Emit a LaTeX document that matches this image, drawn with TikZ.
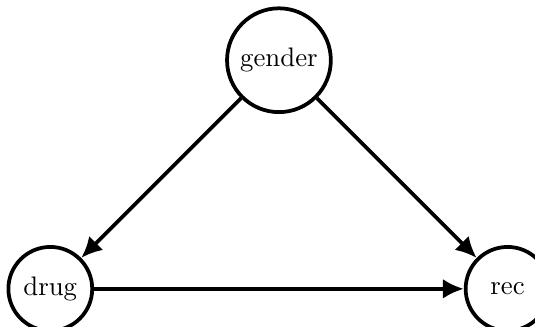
\documentclass[tikz,border=0pt]{standalone}
\usepackage{tikz}
\usetikzlibrary{arrows.meta,positioning}
\tikzset{
  varnode/.style={circle, draw=black, line width=1.4pt, minimum size=1.1cm, inner sep=3.33pt},
  causearrow/.style={-{Latex[length=7.8pt, width=7.4pt]}, line width=1.4pt, draw=black}
}

\begin{document}
\begin{tikzpicture}
    \useasboundingbox (-0.66,-0.50) rectangle (6.36,3.79);
    \node[varnode] (drug) at (0,0) {drug};
    \node[varnode] (rec) at (6,0) {rec};
    \node[varnode] (gender) at (3,3) {gender};

    \draw[causearrow] (gender) -- (drug);
    \draw[causearrow] (gender) -- (rec);
    \draw[causearrow] (drug) -- (rec);
  \end{tikzpicture}
\end{document}
